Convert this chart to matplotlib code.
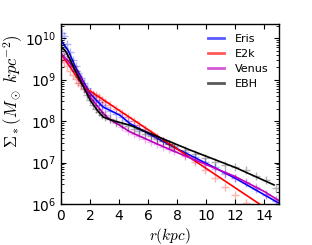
import numpy as np
import matplotlib
matplotlib.use('Agg')
import matplotlib.pyplot as plt

# ── Data (log10 of Sigma_* in M_sun/kpc^2) ────────────────────────────────────
labels = ['Eris', 'E2k', 'Venus', 'EBH']
line_colors = ['b', 'r', 'm', 'k']

# smooth profile curves
eris_r   = [0.0, 0.5, 1.0, 1.31, 1.5, 2.0, 2.5, 2.9, 4.06, 4.75, 6.0, 8.0, 10.0, 12.0, 14.0, 15.0]
eris_lg  = [9.95, 9.70, 9.30, 9.11, 8.98, 8.67, 8.48, 8.34, 8.14, 7.94, 7.70, 7.33, 6.98, 6.62, 6.22, 6.02]
e2k_r    = [0.0, 0.62, 1.31, 1.65, 2.2, 14.0]
e2k_lg   = [9.62, 9.31, 8.95, 8.79, 8.68, 5.92]
venus_r  = [0.0, 0.5, 1.0, 1.31, 2.0, 2.9, 3.35, 3.85, 4.75, 6.8, 8.0, 10.0, 12.0, 14.0, 15.0]
venus_lg = [9.62, 9.45, 9.22, 9.07, 8.58, 8.19, 8.04, 7.94, 7.74, 7.42, 7.24, 6.95, 6.66, 6.30, 6.08]
ebh_r    = [0.0, 0.3, 0.6, 1.0, 1.31, 2.0, 2.5, 2.9, 3.5, 4.75, 6.0, 8.9, 12.0, 14.66]
ebh_lg   = [9.78, 9.70, 9.50, 9.20, 8.99, 8.51, 8.26, 8.10, 8.02, 7.90, 7.72, 7.30, 6.88, 6.46]

# measured points (+ markers)
pts_r = [0.05, 0.2, 0.4, 0.6, 0.8, 1.0, 1.2, 1.4, 1.6, 1.8, 2.0, 2.2, 2.4, 2.6, 2.8, 3.0,
         3.4, 3.8, 4.2, 4.6, 5.0, 5.4, 5.8, 6.2, 6.6, 7.0, 7.4, 7.8,
         8.5, 9.2, 9.9, 10.6, 11.3, 12.0, 12.7, 13.4, 14.1, 14.8]
eris_pts  = [10.12, 10.05, 9.85, 9.66, 9.48, 9.32, 9.16, 9.04, 8.92, 8.80, 8.70, 8.60, 8.52, 8.45, 8.39, 8.33,
             8.25, 8.18, 8.10, 8.00, 7.90, 7.82, 7.75, 7.67, 7.59, 7.52, 7.45, 7.38,
             7.26, 7.14, 7.02, 6.90, 6.76, 6.63, 6.50, 6.36, 6.22, 6.08]
e2k_pts   = [9.50, 9.42, 9.32, 9.22, 9.12, 9.02, 8.93, 8.86, 8.80, 8.76, 8.71, 8.66, 8.62, 8.57, 8.52, 8.47,
             8.39, 8.30, 8.20, 8.10, 8.00, 7.91, 7.82, 7.72, 7.62, 7.53, 7.44, 7.35,
             7.18, 7.02, 6.82, 6.62, 6.42, 6.22, 6.02, 5.80, 5.60, 5.40]
venus_pts = [9.65, 9.58, 9.49, 9.39, 9.30, 9.20, 9.10, 8.98, 8.84, 8.70, 8.58, 8.48, 8.38, 8.29, 8.21, 8.14,
             8.04, 7.95, 7.86, 7.77, 7.70, 7.63, 7.57, 7.50, 7.44, 7.38, 7.32, 7.27,
             7.16, 7.05, 6.95, 6.84, 6.73, 6.62, 6.52, 6.40, 6.25, 6.12]
ebh_pts   = [9.85, 9.76, 9.62, 9.48, 9.34, 9.20, 9.06, 8.92, 8.78, 8.64, 8.51, 8.40, 8.30, 8.22, 8.15, 8.10,
             8.04, 7.99, 7.94, 7.88, 7.82, 7.76, 7.70, 7.64, 7.57, 7.51, 7.45, 7.39,
             7.30, 7.20, 7.10, 7.02, 6.95, 6.90, 6.82, 6.68, 6.58, 6.38]

curves = [(eris_r, eris_lg), (e2k_r, e2k_lg), (venus_r, venus_lg), (ebh_r, ebh_lg)]
points = [eris_pts, e2k_pts, venus_pts, ebh_pts]

# ── Figure ─────────────────────────────────────────────────────────────────────
fig = plt.figure(figsize=(3.12, 2.45), dpi=100)
ax = fig.add_axes([0.1955, 0.1673, 0.6987, 0.7347])

for (r, lg), pts, c, lab in zip(curves, points, line_colors, labels):
    ax.plot(pts_r, 10**np.array(pts), '+', color=c, alpha=0.3, ms=6, mew=1.0)
    ax.plot(r, 10**np.array(lg), '-', color=c, lw=1.2)
    ax.plot([], [], '-', color=c, lw=2, alpha=0.65, label=lab)

ax.set_yscale('log')
ax.set_xlim(0, 15)
ax.set_ylim(1e6, 2.2e10)
ax.set_xticks([0, 2, 4, 6, 8, 10, 12, 14])
ax.tick_params(which='both', direction='in', top=True, right=True, labelsize=10)
ax.tick_params(which='major', length=3.5, width=0.8)
ax.tick_params(which='minor', length=2, width=0.6)
for s in ax.spines.values():
    s.set_linewidth(1.0)

ax.set_xlabel(r'$r(kpc)$', fontsize=11, labelpad=2, math_fontfamily='cm')
ax.set_ylabel(r'$\Sigma_*(M_\odot\ kpc^{-2})$', fontsize=12, math_fontfamily='cm')
ax.yaxis.set_label_coords(-0.165, 0.63)

ax.legend(loc='upper right', frameon=False, fontsize=8, handlelength=1.45,
          handletextpad=1.0, labelspacing=0.45)

plt.savefig('out.png', dpi=100)
